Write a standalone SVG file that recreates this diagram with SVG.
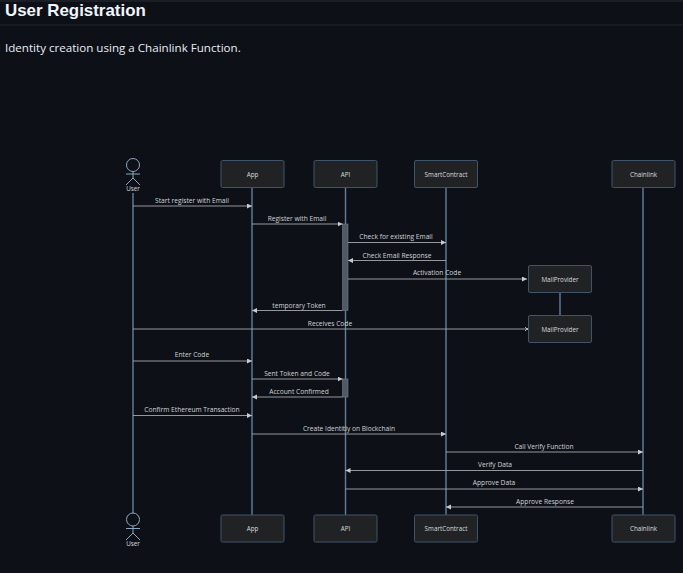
<svg xmlns="http://www.w3.org/2000/svg" width="683" height="573" viewBox="0 0 683 573">
<style>
text{font-family:"Open Sans","Noto Sans","Liberation Sans",sans-serif}
.t{font-family:"Liberation Sans",Arial,sans-serif;font-size:16.900px;font-weight:700;fill:#f0f6fc}
.d{font-size:11.600px;fill:#e6edf3}
.b rect{fill:#212224;stroke:#3f5468;stroke-width:1}
.n{font-size:6.300px;fill:#d8dade;text-anchor:middle;dominant-baseline:central}
.m{font-size:6.650px;fill:#d0d3d6;text-anchor:middle}
.l{stroke:#5f7f9f;stroke-width:1.400;fill:none}
.ar{stroke:#a4a8ad;stroke-width:.9;fill:none;marker-end:url(#a)}
.ax{stroke:#a4a8ad;stroke-width:.9;fill:none;marker-end:url(#x)}
.ac{fill:#525a60;stroke:#5f7f9f;stroke-width:.6}
.u{fill:none;stroke:#8ba7c0;stroke-width:1}
</style>
<defs>
<marker id="a" markerUnits="userSpaceOnUse" markerWidth="6" markerHeight="6" refX="5" refY="2.500" orient="auto"><path d="M0 0L5 2.500L0 5Z" fill="#c8cbcf"/></marker>
<marker id="x" markerUnits="userSpaceOnUse" markerWidth="6" markerHeight="6" refX="3" refY="3" orient="auto"><path d="M1 1L5 5M5 1L1 5" stroke="#c8cbcf" stroke-width=".9"/></marker>
</defs>
<rect width="683" height="573" fill="#0d1117"/>
<rect width="683" height="2" fill="#1a1f26"/>
<path d="M0 25H683" stroke="#21262d"/>
<text class="t" x="5" y="15.800">User Registration</text>
<text class="d" x="5" y="51.500">Identity creation using a Chainlink Function.</text>
<g id="connectors">
<path class="l" d="M133 193V513M252 188V515M345.500 188V515M446 188V515M643 188V515M560 292V315"/>
<rect class="ac" x="342.500" y="224" width="5.500" height="86.500"/>
<rect class="ac" x="342.500" y="379" width="5.500" height="18"/>
<path class="ar" d="M133 206H252"/>
<path class="ar" d="M252 224H342.500"/>
<path class="ar" d="M348 242.500H446"/>
<path class="ar" d="M446 260.500H348"/>
<path class="ar" d="M348 279H527"/>
<path class="ar" d="M342.500 310.500H252"/>
<path class="ax" d="M133 329H527"/>
<path class="ar" d="M133 361H252"/>
<path class="ar" d="M252 379H342.500"/>
<path class="ar" d="M342.500 397H252"/>
<path class="ar" d="M133 415.500H252"/>
<path class="ar" d="M252 434H446"/>
<path class="ar" d="M446 452H643"/>
<path class="ar" d="M643 470.500H345.500"/>
<path class="ar" d="M345.500 489H643"/>
<path class="ar" d="M643 507H446"/>
<text class="m" x="192" y="202.500">Start register with Email</text>
<text class="m" x="297" y="220.500">Register with Email</text>
<text class="m" x="396" y="239">Check for existing Email</text>
<text class="m" x="397" y="257.500">Check Email Response</text>
<text class="m" x="437" y="275">Activation Code</text>
<text class="m" x="299" y="307.500">temporary Token</text>
<text class="m" x="330" y="325.500">Receives Code</text>
<text class="m" x="192" y="357">Enter Code</text>
<text class="m" x="297" y="375.500">Sent Token and Code</text>
<text class="m" x="299" y="393.500">Account Confirmed</text>
<text class="m" x="192" y="411.500">Confirm Ethereum Transaction</text>
<text class="m" x="349" y="430.500">Create Identitiy on Blockchain</text>
<text class="m" x="544" y="448.500">Call Verify Function</text>
<text class="m" x="495" y="466.500">Verify Data</text>
<text class="m" x="494" y="485">Approve Data</text>
<text class="m" x="545" y="503.500">Approve Response</text>
</g>
<g id="user-top"><g class="u"><circle cx="133" cy="165" r="6.500"/><path d="M133 171.500V178M126 174H140M133 178L126 185M133 178L140 185"/></g><text class="n" x="133" y="188.500">User</text></g>
<g id="app-top" class="b"><rect x="221" y="160.500" width="63" height="27" rx="1.500"/><text class="n" x="252.500" y="174">App</text></g>
<g id="api-top" class="b"><rect x="314" y="160.500" width="63" height="27" rx="1.500"/><text class="n" x="345.500" y="174">API</text></g>
<g id="smartcontract-top" class="b"><rect x="414.500" y="160.500" width="63" height="27" rx="1.500"/><text class="n" x="446" y="174">SmartContract</text></g>
<g id="chainlink-top" class="b"><rect x="612" y="160.500" width="63" height="27" rx="1.500"/><text class="n" x="643.500" y="174">Chainlink</text></g>
<g id="mailprovider-1" class="b"><rect x="528.500" y="265.500" width="63" height="27" rx="1.500"/><text class="n" x="560" y="279">MailProvider</text></g>
<g id="mailprovider-2" class="b"><rect x="528.500" y="315.500" width="63" height="27" rx="1.500"/><text class="n" x="560" y="329">MailProvider</text></g>
<g id="user-bottom"><g class="u"><circle cx="133" cy="519.500" r="6.500"/><path d="M133 526V533M126 528.500H140M133 533L126 540M133 533L140 540"/></g><text class="n" x="133" y="543.500">User</text></g>
<g id="app-bottom" class="b"><rect x="221" y="515" width="63" height="27" rx="1.500"/><text class="n" x="252.500" y="528.500">App</text></g>
<g id="api-bottom" class="b"><rect x="314" y="515" width="63" height="27" rx="1.500"/><text class="n" x="345.500" y="528.500">API</text></g>
<g id="smartcontract-bottom" class="b"><rect x="414.500" y="515" width="63" height="27" rx="1.500"/><text class="n" x="446" y="528.500">SmartContract</text></g>
<g id="chainlink-bottom" class="b"><rect x="612" y="515" width="63" height="27" rx="1.500"/><text class="n" x="643.500" y="528.500">Chainlink</text></g>
</svg>
